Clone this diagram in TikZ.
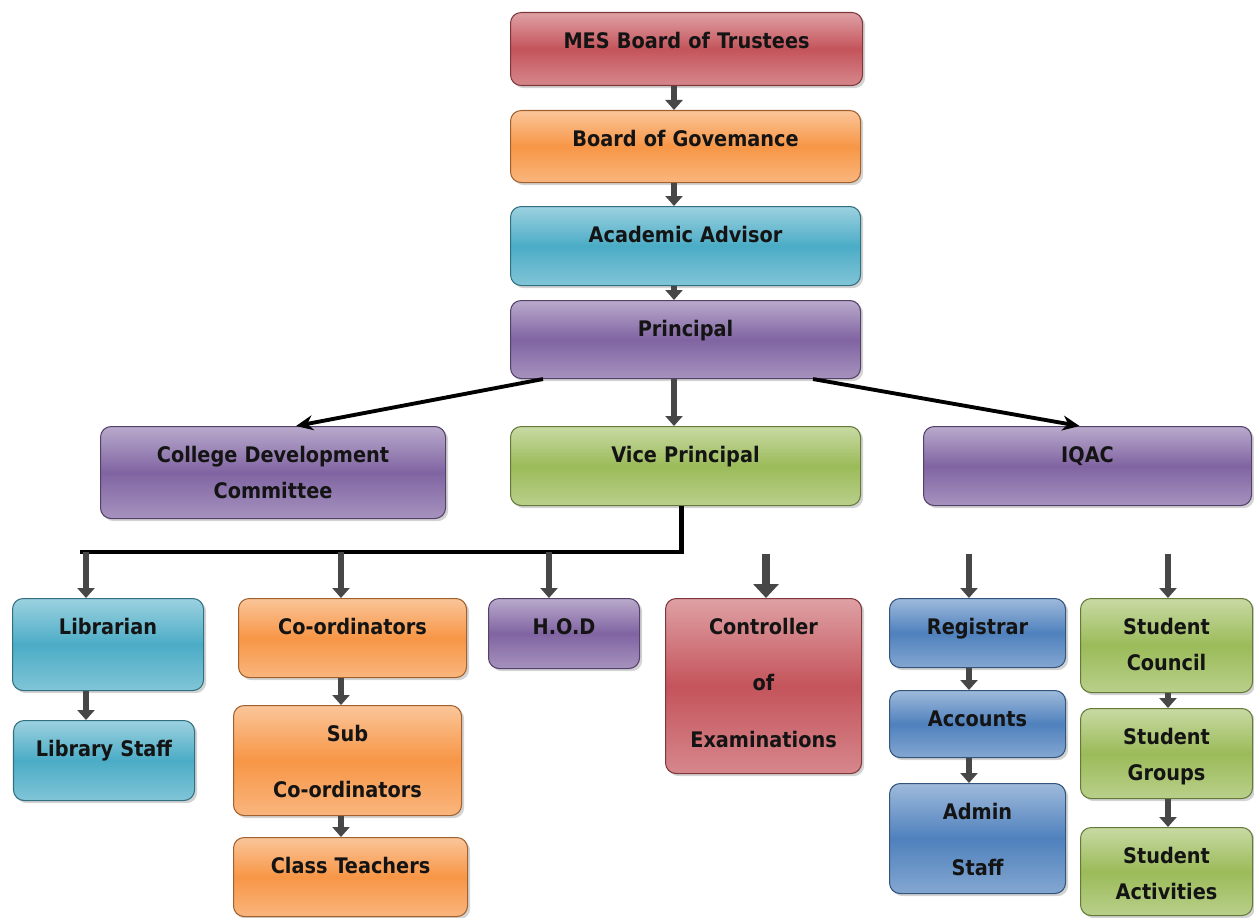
\documentclass[tikz,border=0pt]{standalone}
\usepackage{fontspec}
\setmainfont{DejaVu Sans Condensed}
\usetikzlibrary{arrows.meta,shadows}

\definecolor{msred}{HTML}{C4545B}
\definecolor{msorange}{HTML}{F79646}
\definecolor{msaqua}{HTML}{4BACC6}
\definecolor{mspurple}{HTML}{8064A2}
\definecolor{msgreen}{HTML}{9BBB59}
\definecolor{msblue}{HTML}{4F81BD}

\tikzset{
  unit/.style={draw=#1!65!black, line width=0.6pt, rounded corners=6pt,
    top color=#1!55!white, bottom color=#1!70!white, middle color=#1,
    drop shadow={shadow xshift=1.5pt, shadow yshift=-1.5pt, opacity=0.35},
    anchor=north west, inner sep=0pt, align=center, text=black!92,
    text height=0.71cm, font=\bfseries\fontsize{12.2}{20.7}\selectfont},
  sz/.style 2 args={text width=#1cm, text depth=#2cm},
  blk/.style={line width=3.4pt, draw=black!72, -{Triangle[length=0.2cm, width=0.34cm]}},
  bigblk/.style={line width=5pt, draw=black!72, -{Triangle[length=0.28cm, width=0.5cm]}},
  link/.style={line width=2.2pt, -{Stealth[length=0.34cm, width=0.3cm]}},
  bus/.style={line width=2.4pt}
}

\begin{document}
\begin{tikzpicture}
  \useasboundingbox (0,0) rectangle (25.08,-18.36);

  % management line
  \node[unit=msred, sz={7.04}{0.75}] (trust) at (10.2,-0.24) {MES Board of Trustees};
  \node[unit=msorange, sz={7.0}{0.73}] (gov) at (10.2,-2.2) {Board of Govemance};
  \node[unit=msaqua, sz={7.0}{0.87}] (adv) at (10.2,-4.12) {Academic Advisor};
  \node[unit=mspurple, sz={7.0}{0.85}] (prin) at (10.2,-6.0) {Principal};

  % second level
  \node[unit=mspurple, sz={6.9}{1.13}] (cdc) at (2.0,-8.52) {College Development\\Committee};
  \node[unit=msgreen, sz={7.0}{0.87}] (vp) at (10.2,-8.52) {Vice Principal};
  \node[unit=mspurple, sz={6.56}{0.87}] (iqac) at (18.46,-8.52) {IQAC};

  % departments
  \node[unit=msaqua, sz={3.82}{1.13}] (lib) at (0.24,-11.96) {Librarian};
  \node[unit=msaqua, sz={3.62}{0.89}] (libstaff) at (0.26,-14.4) {Library Staff};
  \node[unit=msorange, sz={4.56}{0.87}] (coord) at (4.76,-11.96) {Co-ordinators};
  \node[unit=msorange, sz={4.56}{1.49}] (subco) at (4.66,-14.1) {Sub\\[11.7pt]Co-ordinators};
  \node[unit=msorange, sz={4.68}{0.87}] (class) at (4.66,-16.74) {Class Teachers};
  \node[unit=mspurple, sz={3.02}{0.69}] (hod) at (9.76,-11.96) {H.O.D};
  \node[unit=msred, sz={3.92}{2.79}] (coe) at (13.3,-11.96) {Controller\\[11.7pt]of\\[11.7pt]Examinations};
  \node[unit=msblue, sz={3.52}{0.67}] (reg) at (17.78,-11.96) {Registrar};
  \node[unit=msblue, sz={3.52}{0.63}] (acc) at (17.78,-13.8) {Accounts};
  \node[unit=msblue, sz={3.52}{1.49}] (admin) at (17.78,-15.66) {Admin\\[11.7pt]Staff};
  \node[unit=msgreen, sz={3.44}{1.17}] (council) at (21.6,-11.96) {Student\\Council};
  \node[unit=msgreen, sz={3.44}{1.09}] (groups) at (21.6,-14.16) {Student\\Groups};
  \node[unit=msgreen, sz={3.44}{1.05}] (acts) at (21.6,-16.54) {Student\\Activities};

  % spine
  \coordinate (spine) at (13.48,0);
  \draw[blk] (trust.south -| spine) -- (gov.north -| spine);
  \draw[blk] (gov.south -| spine) -- (adv.north -| spine);
  \draw[blk] (adv.south -| spine) -- (prin.north -| spine);
  \draw[blk] (prin.south -| spine) -- (vp.north -| spine);
  \draw[link] ([xshift=0.66cm]prin.south west) -- ([xshift=0.46cm]cdc.north);
  \draw[link] ([xshift=-0.96cm]prin.south east) -- ([xshift=-0.16cm]iqac.north);

  % bus under vice principal
  \coordinate (busw) at (1.6,-11.04);
  \coordinate (b-lib) at (1.72,-11.04);
  \coordinate (b-co) at (6.82,-11.04);
  \coordinate (b-hod) at (10.98,-11.04);
  \draw[bus] ([xshift=-0.08cm]vp.south) |- (busw);
  \draw[blk] (b-lib) -- (b-lib |- lib.north);
  \draw[blk] (b-co) -- (b-co |- coord.north);
  \draw[blk] (b-hod) -- (b-hod |- hod.north);

  % loose arrows
  \coordinate (in-coe) at (15.32,-11.08);
  \coordinate (in-reg) at (19.38,-11.08);
  \coordinate (in-sc) at (23.36,-11.08);
  \draw[bigblk] (in-coe) -- (in-coe |- coe.north);
  \draw[blk] (in-reg) -- (in-reg |- reg.north);
  \draw[blk] (in-sc) -- (in-sc |- council.north);

  % columns
  \draw[blk] (lib.south -| b-lib) -- (libstaff.north -| b-lib);
  \draw[blk] (coord.south -| b-co) -- (subco.north -| b-co);
  \draw[blk] (subco.south -| b-co) -- (class.north -| b-co);
  \draw[blk] (reg.south -| in-reg) -- (acc.north -| in-reg);
  \draw[blk] (acc.south -| in-reg) -- (admin.north -| in-reg);
  \draw[blk] (council.south -| in-sc) -- (groups.north -| in-sc);
  \draw[blk] (groups.south -| in-sc) -- (acts.north -| in-sc);
\end{tikzpicture}
\end{document}
